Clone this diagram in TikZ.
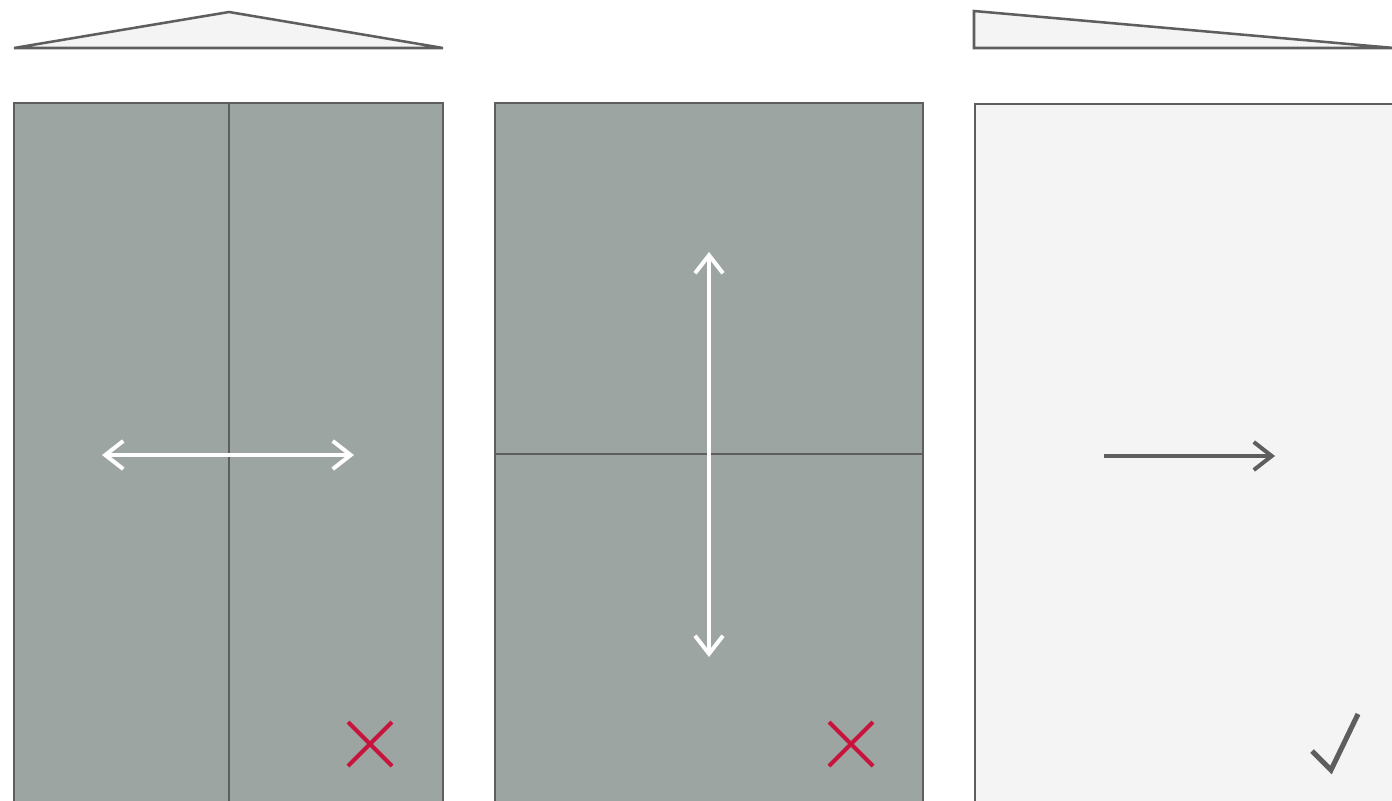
\documentclass[tikz,border=0pt]{standalone}
\usetikzlibrary{arrows.meta}
\definecolor{edge}{HTML}{5E5E5E}
\definecolor{panelgray}{HTML}{9DA5A2}
\definecolor{light}{HTML}{F4F4F4}
\definecolor{crossred}{HTML}{C8143C}
\tikzset{
  frame/.style={draw=edge, line width=1.9pt, line join=miter},
  divider/.style={draw=edge, line width=1.5pt},
  bigarrow/.style={line width=3pt, {Straight Barb[length=13.5pt,width=21pt,line width=3pt]}-{Straight Barb[length=13.5pt,width=21pt,line width=3pt]}},
  onearrow/.style={line width=3pt, -{Straight Barb[length=13.5pt,width=21pt,line width=3pt]}},
  crossmark/.style={draw=crossred, line width=3pt},
  checkmark/.style={draw=edge, line width=3.8pt, line join=miter}
}
\begin{document}
\begin{tikzpicture}[x=0.75pt,y=-0.75pt]
\useasboundingbox (0,0) rectangle (1392,800);
\clip (0,0) rectangle (1392,800);
\fill[white] (0,0) rectangle (1392,800);
% roof shapes
\filldraw[frame, fill=light] (14,48) -- (229,12) -- (443,48) -- cycle;
\filldraw[frame, fill=light] (974,48) -- (974,11) -- (1394,48) -- cycle;
% panel 1
\filldraw[frame, fill=panelgray] (14,103) rectangle (443,820);
\draw[divider] (229,103) -- (229,820);
\draw[white, bigarrow] (102,455) -- (354,455);
\draw[crossmark] (348,722) -- (392,766);
\draw[crossmark] (348,766) -- (392,722);
% panel 2
\filldraw[frame, fill=panelgray] (495,103) rectangle (923,820);
\draw[divider] (495,454) -- (923,454);
\draw[white, bigarrow] (709,252) -- (709,657);
\draw[crossmark] (829,722) -- (873,766);
\draw[crossmark] (829,766) -- (873,722);
% panel 3
\filldraw[frame, fill=light] (975,104) rectangle (1400,820);
\draw[edge, onearrow] (1104,456) -- (1275,456);
\draw[checkmark] (1312,751) -- (1331,770) -- (1358,714);
\end{tikzpicture}
\end{document}
